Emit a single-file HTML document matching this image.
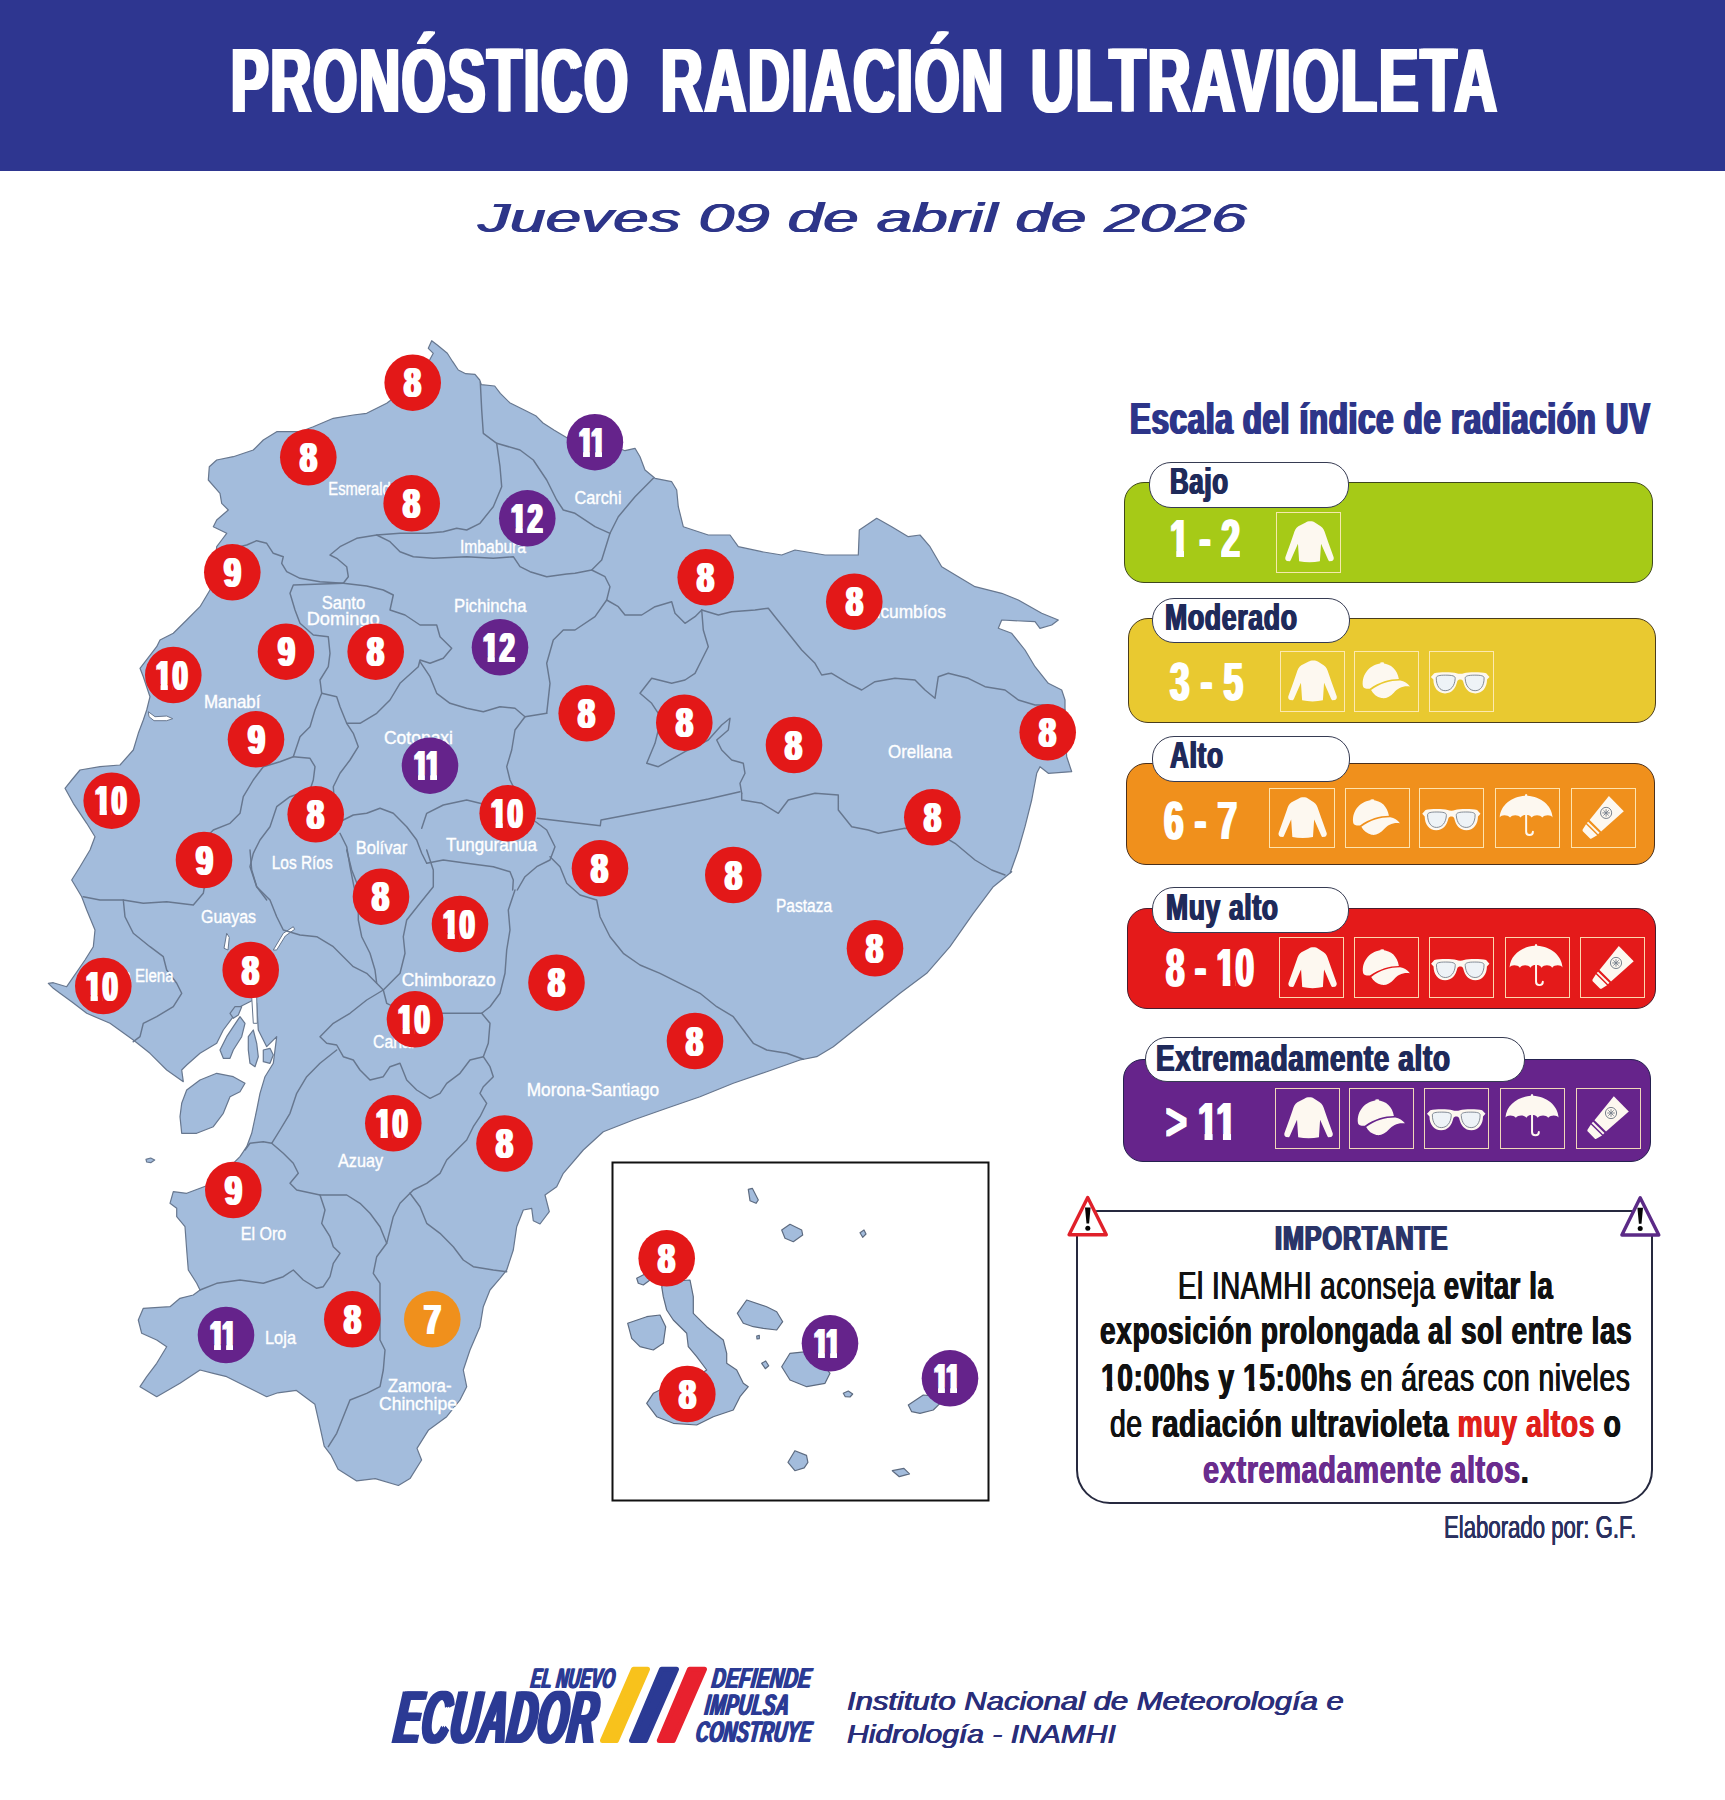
<!DOCTYPE html>
<html lang="es">
<head>
<meta charset="utf-8">
<title>Pronóstico Radiación Ultravioleta</title>
<style>
html,body{margin:0;padding:0;background:#fff;}
body{width:1725px;height:1800px;position:relative;overflow:hidden;font-family:"Liberation Sans",sans-serif;}
.t{position:absolute;white-space:nowrap;line-height:1;transform-origin:0 0;}
.abs{position:absolute;}
#hdr{left:0;top:0;width:1725px;height:170.5px;background:#2e3690;}
.band{position:absolute;border-radius:20px;box-sizing:border-box;}
.tab{position:absolute;background:#fff;border:1.6px solid #363b52;border-radius:22px;box-sizing:border-box;}
.ib{position:absolute;border:1.4px solid rgba(255,236,190,.9);box-sizing:border-box;}
svg{position:absolute;left:0;top:0;overflow:visible;}
</style>
</head>
<body>
<div id="hdr" class="abs"></div>
<div class="t" style="left:230.5px;top:36.2px;font-size:90.12px;color:#fff;font-weight:700;transform:scaleX(0.6260);text-shadow:3.20px 0 0 currentColor,-3.20px 0 0 currentColor;letter-spacing:3.15px;">PRONÓSTICO</div>
<div class="t" style="left:660.5px;top:36.2px;font-size:90.12px;color:#fff;font-weight:700;transform:scaleX(0.6382);text-shadow:3.13px 0 0 currentColor,-3.13px 0 0 currentColor;letter-spacing:3.15px;">RADIACIÓN</div>
<div class="t" style="left:1030.5px;top:36.2px;font-size:90.12px;color:#fff;font-weight:700;transform:scaleX(0.6559);text-shadow:3.05px 0 0 currentColor,-3.05px 0 0 currentColor;letter-spacing:3.15px;">ULTRAVIOLETA</div>
<div class="t" style="left:478.0px;top:197.9px;font-size:41.42px;color:#2d3589;font-weight:400;font-style:italic;transform:scaleX(1.5459);text-shadow:0.58px 0 0 currentColor,-0.58px 0 0 currentColor;">Jueves 09 de abril de 2026</div>
<svg width="1725" height="1800" viewBox="0 0 1725 1800" style="font-family:'Liberation Sans',sans-serif">
<g fill="#a3bcdc" stroke="#67778f" stroke-width="1.2" stroke-linejoin="round">
<path d="M431.7,340.7 437.3,345.0 447.3,353.3 452.7,361.7 458.3,370.0 465.7,373.7 475.0,374.3 479.7,380.0 481.3,384.7 494.7,386.0 500.3,393.3 509.7,402.7 524.3,410.0 535.7,415.7 543.0,423.0 554.3,430.3 567.3,438.0 575.0,440.7 595.0,441.7 615.0,446.7 625.0,450.7 635.0,448.3 640.0,456.7 645.0,470.0 655.0,478.3 671.7,481.7 676.7,490.0 678.3,506.7 683.3,526.7 708.3,535.0 730.0,535.0 738.3,546.7 761.7,551.7 781.7,555.0 795.0,550.0 825.0,555.0 858.3,555.0 859.3,530.0 876.7,518.3 891.7,526.7 908.3,536.7 920.0,535.0 930.0,546.7 941.7,566.7 958.3,576.7 975.0,586.7 1001.7,593.3 1018.3,600.0 1041.7,613.3 1058.3,620.0 1051.7,625.0 1040.0,628.3 1035.0,621.7 1001.7,620.0 998.3,628.3 1011.7,633.3 1025.0,650.0 1035.0,666.7 1048.3,683.3 1061.7,690.0 1065.0,700.0 1065.0,720.0 1065.7,743.3 1066.7,756.7 1071.7,771.7 1048.3,773.3 1040.0,766.7 1036.7,773.3 1031.7,800.0 1025.0,826.7 1018.3,850.0 1010.0,873.3 1011.7,871.7 993.3,886.7 973.3,913.3 950.0,946.7 926.7,973.3 900.0,993.3 866.7,1020.0 833.3,1046.7 816.7,1056.7 800.0,1060.0 766.7,1071.7 733.3,1083.3 700.0,1096.7 666.7,1108.3 633.3,1120.0 603.3,1131.7 583.3,1150.0 563.3,1173.3 556.7,1186.7 545.0,1195.0 549.3,1211.7 540.0,1224.0 533.3,1220.7 531.7,1208.3 523.3,1210.0 516.7,1226.7 513.3,1250.0 506.7,1270.0 500.0,1278.3 490.0,1290.0 483.3,1306.7 480.0,1326.7 470.0,1350.0 463.3,1370.0 466.7,1386.7 460.0,1400.0 446.7,1416.7 428.6,1429.9 417.0,1448.4 421.6,1460.0 410.0,1478.6 398.4,1485.5 375.2,1478.6 356.7,1480.9 338.1,1469.3 331.2,1455.4 324.2,1446.1 319.6,1425.2 314.9,1404.3 296.4,1390.4 277.8,1392.8 266.7,1396.7 246.7,1386.7 226.7,1376.7 213.3,1373.3 200.0,1370.0 180.0,1383.3 156.7,1396.7 140.0,1386.7 146.7,1376.7 156.7,1363.3 166.7,1346.7 156.7,1340.0 141.7,1333.3 138.3,1320.0 143.3,1308.3 170.0,1306.7 180.0,1298.3 193.3,1295.0 200.0,1290.0 196.7,1283.3 188.3,1270.0 186.7,1250.0 185.0,1226.7 176.7,1216.7 176.7,1208.3 170.0,1203.3 173.3,1191.7 186.7,1193.3 200.0,1188.3 213.3,1183.3 226.7,1170.0 240.0,1156.7 246.7,1146.7 251.7,1133.3 256.7,1110.0 260.0,1093.3 265.0,1076.7 273.3,1063.3 276.7,1036.7 266.7,1046.7 258.3,1030.0 256.7,1003.3 253.3,1000.0 240.0,1006.7 233.3,1016.7 223.3,1030.0 216.7,1043.3 200.0,1053.3 186.7,1065.0 181.7,1070.0 183.3,1081.7 166.7,1070.0 150.0,1053.3 133.3,1040.0 110.0,1023.3 86.7,1013.3 71.7,1001.7 60.0,993.3 53.3,988.3 48.3,983.3 53.3,982.7 66.7,986.7 85.0,960.0 93.3,946.7 95.0,930.0 86.7,910.0 81.7,896.7 71.7,880.0 80.0,866.7 90.0,850.0 95.0,836.7 86.7,823.3 73.3,803.3 65.0,788.3 71.7,780.0 80.0,770.0 100.0,766.7 120.0,765.0 133.3,750.0 138.3,733.3 143.3,720.0 146.7,710.0 150.0,696.7 143.3,676.7 140.0,668.3 156.7,646.7 160.0,640.0 173.3,633.3 186.7,620.0 200.0,606.7 210.0,590.0 215.0,563.3 216.7,546.7 221.7,540.0 226.7,533.3 213.3,526.7 216.7,520.0 228.3,510.0 221.7,503.3 220.0,493.3 208.3,480.0 209.3,466.7 216.7,460.0 233.3,456.7 253.3,450.0 263.3,440.0 276.7,431.7 300.0,431.7 313.3,426.7 333.3,418.3 353.3,415.0 366.7,413.3 386.7,403.3 400.0,393.3 416.7,376.7 430.0,359.3 433.3,353.3 428.3,348.3Z"/>
<path d="M181.7,1103.3 186.7,1090.0 200.0,1080.0 216.7,1073.3 233.3,1076.7 245.0,1083.3 240.0,1091.7 230.0,1096.7 223.3,1113.3 213.3,1126.7 196.7,1133.3 181.7,1133.3 180.0,1116.7Z"/>
<path d="M146.0,1159.3 150.7,1158.0 154.7,1160.0 150.7,1162.7 146.7,1162.0Z"/>
<path d="M220.0,1050.0 226.7,1036.7 233.3,1026.7 240.0,1016.7 245.0,1023.3 241.7,1036.7 233.3,1050.0 230.0,1058.3 223.3,1058.3Z"/>
<path d="M248.3,1036.7 253.3,1030.0 256.7,1043.3 258.3,1056.7 255.0,1066.7 250.0,1063.3 248.3,1050.0Z"/>
<path d="M263.3,1050.0 270.0,1048.3 273.3,1055.0 270.0,1063.3 263.3,1061.7Z"/>
<path d="M230.0,1013.3 235.0,1006.7 241.7,1006.7 238.3,1015.0 233.3,1018.3Z"/>
</g>
<g fill="#fff" stroke="#67778f" stroke-width="1">
<path d="M148.3,711.7 155.0,716.7 166.7,716.0 172.7,718.7 166.7,720.7 154.0,720.7 149.0,716.7Z"/>
<path d="M224.0,948.3 226.7,933.3 229.3,937.3 228.0,950.0Z"/>
<path d="M273.3,950.0 283.3,933.3 293.3,926.7 294.7,929.3 285.3,936.0 276.7,950.0Z"/>
<path d="M251.7,996.7 256.7,996.7 257.3,1023.3 253.3,1023.3Z"/>
</g>
<g fill="none" stroke="#67778f" stroke-width="1.45" stroke-linejoin="round" stroke-linecap="round">
<path d="M480.3,382.3 481.7,410.0 483.3,433.3 496.7,443.3 500.0,466.7 501.7,486.7 493.3,506.7 480.0,523.3 466.7,530.0 456.7,528.3 443.3,531.7 426.7,533.3 400.0,533.3 376.7,535.0 356.7,538.3 340.0,546.7 330.0,555.0 336.7,558.3 346.7,566.7 348.3,576.7 343.3,583.3"/>
<path d="M343.3,583.3 320.0,581.7 300.0,578.3 286.7,571.7 281.7,563.3 283.3,556.7 273.3,553.3 266.7,543.3 256.7,540.7 246.7,545.0 233.3,548.3"/>
<path d="M496.7,443.3 520.0,450.0 533.3,460.0 546.7,480.0 556.7,500.0 563.3,510.0 575.0,513.3 575.0,513.3 595.0,526.7 610.0,533.3"/>
<path d="M653.3,478.3 635.0,496.7 618.3,516.7 610.0,533.3 601.7,560.0 591.7,570.0 575.0,573.3 566.7,574.0 546.7,576.7 530.0,571.7 520.0,566.7 513.3,556.7 493.3,558.3 466.7,556.7 433.3,558.3 413.3,556.7 400.0,551.7 390.0,541.7 376.7,535.0"/>
<path d="M591.7,570.0 605.0,576.7 610.0,586.7 606.7,600.0 595.0,616.7 575.0,630.0 563.3,630.0 553.3,640.0 546.7,663.3 550.0,683.3 546.7,713.3"/>
<path d="M606.7,600.0 618.3,606.7 625.0,615.0 641.7,615.0 655.0,606.7 671.7,601.7 675.0,613.3 685.0,623.3 695.0,616.7 701.7,610.0"/>
<path d="M701.7,610.0 718.3,615.0 731.7,611.7 755.0,610.0 768.3,608.3 775.0,616.7 788.3,633.3 801.7,650.0 815.0,663.3 821.7,675.0 831.7,673.3 848.3,683.3 861.7,690.0 875.0,681.7 895.0,678.3 915.0,680.0 925.0,690.0 935.0,698.3 938.3,676.7 948.3,673.3 968.3,678.3 985.0,686.7 1005.0,690.0 1018.3,700.0 1035.0,705.0 1048.3,705.0 1065.0,710.0"/>
<path d="M701.7,610.0 703.3,630.0 708.3,646.7 701.7,660.0 695.0,673.3 685.0,680.0 671.7,683.3 651.7,678.3 640.0,693.3 651.7,703.3 658.3,713.3 658.3,730.0 655.0,743.3 646.7,763.3 658.3,766.7 685.0,751.7 708.3,740.0 721.7,725.0 730.0,718.3 728.3,730.0 716.7,740.0 721.7,750.0 731.7,760.0 743.3,763.3 745.0,773.3 740.0,783.3 741.7,793.3"/>
<path d="M741.7,793.3 741.7,800.0 761.7,803.3 778.3,813.3 788.3,800.0 815.0,793.3 838.3,795.0 838.3,810.0 851.7,826.7 868.3,830.0 878.3,833.3 905.0,828.3 932.3,830.0 955.0,843.3 975.0,860.0 991.7,870.0 1005.0,875.0"/>
<path d="M740.0,791.7 708.3,799.0 675.0,805.7 641.7,812.3 601.0,820.0 600.3,825.7 575.0,822.7 537.3,818.3"/>
<path d="M343.3,583.3 293.3,585.0 290.0,593.3 295.0,610.0 300.0,623.3 313.3,635.0 328.3,636.7 330.0,653.3 328.3,666.7 320.0,680.0 321.7,693.3"/>
<path d="M343.3,583.3 366.7,586.0 383.3,590.0 393.3,595.0 390.0,610.0 405.0,615.0 420.0,625.0 436.7,625.0 440.0,636.7 451.7,648.3 443.3,658.3 430.0,663.3 420.0,660.0 418.3,666.7 400.0,683.3 390.0,700.0 376.7,713.3 360.0,723.3 346.7,723.3 340.0,706.7 336.7,696.7 321.7,693.3"/>
<path d="M420.0,661.7 430.0,676.7 436.7,693.3 450.0,703.3 466.7,708.3 483.3,711.7 500.0,706.7 515.0,708.3 525.0,716.7 546.7,713.3"/>
<path d="M525.0,716.7 515.0,730.0 511.7,750.0 506.7,766.7 510.0,780.0 515.0,790.0 515.0,815.0"/>
<path d="M321.7,693.3 315.0,710.0 310.0,726.7 300.0,736.7 293.3,756.7 280.0,761.7 263.3,766.7 253.3,780.0 243.3,796.7 240.0,813.3 230.0,823.3 213.3,830.0 206.7,836.7 205.0,866.7"/>
<path d="M346.7,723.3 353.3,733.3 358.3,746.7 350.0,760.0 340.0,773.3 333.3,786.7 335.0,810.0 343.3,820.0"/>
<path d="M293.3,756.7 310.0,758.3 315.0,766.7 313.3,780.0 310.0,790.0 290.0,796.7 276.7,806.7 270.0,826.7 260.0,840.0 253.3,853.3 250.0,866.7 256.7,886.7 266.7,900.0"/>
<path d="M343.3,820.0 353.3,815.0 366.7,813.3 380.0,808.3 393.3,813.3 406.7,826.7 416.7,840.0 421.7,853.3 426.7,863.3"/>
<path d="M340.0,833.3 346.7,846.7 350.0,866.7 353.3,883.3 356.7,900.0"/>
<path d="M421.7,828.3 426.7,813.3 443.3,805.0 466.7,800.0 480.0,803.3 515.0,815.0"/>
<path d="M533.3,820.0 546.7,830.0 555.0,846.7 550.0,860.0 536.7,866.7 525.0,876.7 517.3,890.0"/>
<path d="M426.7,863.3 443.3,860.0 466.7,863.3 493.3,866.7 510.0,871.7 513.3,880.0 512.7,890.0"/>
<path d="M83.3,896.7 100.0,900.0 123.3,900.0 143.3,903.3 166.7,901.7 193.3,905.0 203.3,893.3 205.0,883.3"/>
<path d="M123.3,900.0 125.0,916.7 133.3,933.3 150.0,946.7 163.3,956.7 166.7,970.0 176.7,983.3 181.7,993.3 173.3,1006.7 156.7,1016.7 143.3,1023.3 140.0,1036.7 133.3,1041.7"/>
<path d="M250.0,850.0 251.7,870.0 256.7,886.7 270.0,900.0 276.7,916.7 283.3,930.0 300.0,935.0 316.7,936.7 333.3,946.7 343.3,956.7 353.3,966.7 366.7,973.3 376.7,983.3 383.3,990.0"/>
<path d="M346.7,850.0 351.7,870.0 358.3,886.7 358.3,920.0 361.7,936.7 370.0,953.3 375.0,970.0 376.7,983.3"/>
<path d="M426.7,850.0 433.3,870.0 433.3,886.7 420.0,903.3 406.7,920.0 403.3,936.7 405.0,953.3 400.0,973.3 383.3,990.0"/>
<path d="M515.0,890.0 508.3,910.0 510.0,930.0 506.7,950.0 505.0,973.3 500.0,993.3 490.0,1006.7 481.7,1013.3"/>
<path d="M383.3,990.0 366.7,1000.0 350.0,1013.3 333.3,1023.3 320.0,1036.7 326.7,1043.3 336.7,1045.0 343.3,1056.7 353.3,1060.0 360.0,1070.0 370.0,1080.0 383.3,1076.7 390.0,1066.7 400.0,1063.3 406.7,1080.0 416.7,1090.0 430.0,1098.3 440.0,1093.3 446.7,1083.3 460.0,1073.3 470.0,1060.0 483.3,1056.7 490.0,1066.7 493.3,1076.7 483.3,1086.7 480.0,1093.3 486.7,1103.3 480.0,1116.7 473.3,1126.7 466.7,1140.0 456.7,1150.0 446.7,1160.0 440.0,1173.3 426.7,1183.3 413.3,1190.0 410.0,1193.3"/>
<path d="M383.3,990.0 386.7,1003.3 415.0,1016.7 443.3,1013.3 466.7,1013.3 481.7,1013.3 490.0,1023.3 488.3,1043.3 483.3,1056.7"/>
<path d="M336.7,1050.0 320.0,1063.3 306.7,1076.7 296.7,1093.3 290.0,1113.3 280.0,1130.0 271.7,1143.3 263.3,1141.7 250.0,1143.3 245.0,1150.0"/>
<path d="M271.7,1143.3 283.3,1153.3 293.3,1163.3 298.3,1173.3 290.0,1183.3 296.7,1190.0 320.0,1195.0 346.7,1195.0 360.0,1203.3 370.0,1213.3 380.0,1226.7 386.7,1243.3"/>
<path d="M410.0,1193.3 400.0,1203.3 393.3,1216.7 386.7,1243.3 376.7,1256.7 373.3,1273.3 380.0,1283.3 380.0,1296.7 380.0,1340.0 385.0,1350.0 383.3,1370.0 380.0,1386.7 366.7,1393.3 350.0,1400.0 343.3,1416.7 336.7,1433.3 328.3,1446.7"/>
<path d="M320.0,1195.0 325.0,1210.0 321.7,1223.3 330.0,1236.7 333.3,1246.7 340.0,1253.3 333.3,1263.3 330.0,1276.7 323.3,1286.7 316.7,1288.3 303.3,1280.0 293.3,1270.0 283.3,1276.7 263.3,1283.3 240.0,1280.0 216.7,1283.3 200.0,1290.0"/>
<path d="M410.0,1193.3 420.0,1206.7 426.7,1223.3 440.0,1233.3 453.3,1246.7 463.3,1260.0 473.3,1266.7 493.3,1270.0 506.7,1271.7"/>
<path d="M550.0,856.7 560.0,866.7 566.7,883.3 580.0,895.0 596.7,900.0 600.0,916.7 610.0,936.7 623.3,953.3 640.0,965.0 660.0,973.3 680.0,983.3 700.0,993.3 716.7,1006.7 733.3,1016.7 743.3,1030.0 753.3,1043.3 766.7,1050.0 786.7,1053.3 803.3,1059.3"/>
</g>
<rect x="612.5" y="1162.5" width="376" height="338" fill="#fff" stroke="#111" stroke-width="2"/>
<g fill="#a3bcdc" stroke="#5d6b80" stroke-width="1.2" stroke-linejoin="round">
<path d="M661.7,1286.7 666.7,1281.7 690.0,1280.0 693.3,1296.7 693.3,1313.3 706.7,1326.7 723.3,1340.0 726.7,1353.3 726.7,1363.3 736.7,1370.0 743.3,1383.3 748.3,1386.7 740.0,1396.7 733.3,1410.0 713.3,1416.7 696.7,1425.0 673.3,1423.3 656.7,1416.7 646.7,1403.3 653.3,1393.3 663.3,1388.3 686.7,1383.3 706.7,1370.0 696.7,1356.7 688.3,1346.7 686.7,1333.3 673.3,1320.0 666.7,1310.0 663.3,1296.7Z"/>
<path d="M636.7,1278.3 645.0,1274.0 650.0,1280.0 643.3,1285.0 638.3,1283.3Z"/>
<path d="M627.7,1323.3 646.7,1316.7 660.0,1315.0 665.7,1326.7 663.3,1343.3 653.3,1350.0 640.0,1346.7 631.7,1338.3Z"/>
<path d="M737.3,1313.3 746.7,1300.0 766.7,1306.7 776.7,1311.7 782.7,1321.7 776.7,1330.0 763.3,1328.3 753.3,1326.7 743.3,1323.3Z"/>
<path d="M781.7,1366.7 790.0,1353.3 806.7,1351.7 820.0,1360.0 830.0,1373.3 825.0,1383.3 806.7,1386.7 790.0,1380.0Z"/>
<path d="M908.3,1405.0 923.3,1395.0 940.0,1396.7 940.0,1403.3 933.3,1410.0 920.0,1413.3 911.7,1411.7Z"/>
<path d="M748.3,1189.3 752.3,1188.3 758.3,1200.0 756.0,1203.3 750.0,1200.7Z"/>
<path d="M781.7,1230.0 790.0,1224.3 801.7,1230.0 802.7,1235.0 793.3,1241.7 785.0,1238.3Z"/>
<path d="M860.0,1232.7 864.0,1230.0 866.0,1234.0 862.7,1237.3Z"/>
<path d="M756.7,1336.0 759.3,1335.3 759.3,1338.7 757.0,1339.0Z"/>
<path d="M761.7,1363.3 765.7,1361.0 768.7,1365.7 765.3,1368.7Z"/>
<path d="M843.3,1393.3 848.3,1391.0 852.7,1394.0 850.0,1397.0 845.3,1396.7Z"/>
<path d="M788.0,1462.3 794.9,1450.7 806.5,1455.4 807.9,1462.3 804.2,1467.9 794.9,1470.7Z"/>
<path d="M892.3,1470.7 903.9,1468.3 909.5,1473.9 899.3,1476.7Z"/>
</g>
<g fill="#fff" font-size="17.5" stroke="#fff" stroke-width="0.35">
<text x="328.3" y="495.1" textLength="78.0" lengthAdjust="spacingAndGlyphs">Esmeraldas</text>
<text x="574.5" y="503.8" textLength="47.0" lengthAdjust="spacingAndGlyphs">Carchi</text>
<text x="460.0" y="552.5" textLength="66.0" lengthAdjust="spacingAndGlyphs">Imbabura</text>
<text x="321.7" y="609.1" textLength="43.5" lengthAdjust="spacingAndGlyphs">Santo</text>
<text x="306.7" y="624.8" textLength="73.0" lengthAdjust="spacingAndGlyphs">Domingo</text>
<text x="454.0" y="611.5" textLength="72.5" lengthAdjust="spacingAndGlyphs">Pichincha</text>
<text x="859.3" y="617.5" textLength="86.5" lengthAdjust="spacingAndGlyphs">Sucumbíos</text>
<text x="204.0" y="707.5" textLength="56.5" lengthAdjust="spacingAndGlyphs">Manabí</text>
<text x="384.0" y="744.1" textLength="69.0" lengthAdjust="spacingAndGlyphs">Cotopaxi</text>
<text x="888.0" y="758.1" textLength="64.0" lengthAdjust="spacingAndGlyphs">Orellana</text>
<text x="355.7" y="853.8" textLength="51.5" lengthAdjust="spacingAndGlyphs">Bolívar</text>
<text x="446.0" y="850.8" textLength="91.0" lengthAdjust="spacingAndGlyphs">Tungurahua</text>
<text x="271.7" y="869.1" textLength="61.0" lengthAdjust="spacingAndGlyphs">Los Ríos</text>
<text x="776.0" y="911.8" textLength="56.0" lengthAdjust="spacingAndGlyphs">Pastaza</text>
<text x="201.0" y="922.5" textLength="55.0" lengthAdjust="spacingAndGlyphs">Guayas</text>
<text x="91.5" y="982.1" textLength="82.0" lengthAdjust="spacingAndGlyphs">Santa Elena</text>
<text x="401.7" y="985.8" textLength="94.0" lengthAdjust="spacingAndGlyphs">Chimborazo</text>
<text x="373.0" y="1047.5" textLength="43.0" lengthAdjust="spacingAndGlyphs">Cañar</text>
<text x="526.7" y="1095.8" textLength="132.5" lengthAdjust="spacingAndGlyphs">Morona-Santiago</text>
<text x="338.0" y="1166.8" textLength="45.0" lengthAdjust="spacingAndGlyphs">Azuay</text>
<text x="240.7" y="1240.1" textLength="45.5" lengthAdjust="spacingAndGlyphs">El Oro</text>
<text x="265.0" y="1344.1" textLength="31.0" lengthAdjust="spacingAndGlyphs">Loja</text>
<text x="387.7" y="1391.5" textLength="64.0" lengthAdjust="spacingAndGlyphs">Zamora-</text>
<text x="379.0" y="1410.4" textLength="78.0" lengthAdjust="spacingAndGlyphs">Chinchipe</text>
</g>
<g>
<circle cx="412.7" cy="382.7" r="28.3" fill="#e31818"/>
<circle cx="308.3" cy="457.3" r="28.3" fill="#e31818"/>
<circle cx="411.7" cy="503.3" r="28.3" fill="#e31818"/>
<circle cx="527.3" cy="518.3" r="28.3" fill="#65238b"/>
<circle cx="232.3" cy="572.3" r="28.3" fill="#e31818"/>
<circle cx="286.0" cy="651.7" r="28.3" fill="#e31818"/>
<circle cx="375.7" cy="651.7" r="28.3" fill="#e31818"/>
<circle cx="500.0" cy="647.3" r="28.3" fill="#65238b"/>
<circle cx="173.3" cy="675.0" r="28.3" fill="#e31818"/>
<circle cx="256.0" cy="739.3" r="28.3" fill="#e31818"/>
<circle cx="430.0" cy="765.7" r="28.3" fill="#65238b"/>
<circle cx="111.7" cy="800.7" r="28.3" fill="#e31818"/>
<circle cx="315.7" cy="814.3" r="28.3" fill="#e31818"/>
<circle cx="507.7" cy="813.3" r="28.3" fill="#e31818"/>
<circle cx="204.0" cy="860.0" r="28.3" fill="#e31818"/>
<circle cx="381.0" cy="896.7" r="28.3" fill="#e31818"/>
<circle cx="594.9" cy="442.2" r="28.3" fill="#65238b"/>
<circle cx="705.7" cy="577.3" r="28.3" fill="#e31818"/>
<circle cx="854.3" cy="601.7" r="28.3" fill="#e31818"/>
<circle cx="586.7" cy="713.3" r="28.3" fill="#e31818"/>
<circle cx="684.3" cy="722.7" r="28.3" fill="#e31818"/>
<circle cx="794.0" cy="745.0" r="28.3" fill="#e31818"/>
<circle cx="1047.7" cy="732.3" r="28.3" fill="#e31818"/>
<circle cx="932.3" cy="817.3" r="28.3" fill="#e31818"/>
<circle cx="600.0" cy="868.3" r="28.3" fill="#e31818"/>
<circle cx="733.3" cy="875.0" r="28.3" fill="#e31818"/>
<circle cx="460.0" cy="924.0" r="28.3" fill="#e31818"/>
<circle cx="250.7" cy="970.0" r="28.3" fill="#e31818"/>
<circle cx="103.3" cy="986.0" r="28.3" fill="#e31818"/>
<circle cx="556.5" cy="982.7" r="28.3" fill="#e31818"/>
<circle cx="415.0" cy="1019.3" r="28.3" fill="#e31818"/>
<circle cx="393.3" cy="1123.3" r="28.3" fill="#e31818"/>
<circle cx="504.5" cy="1143.5" r="28.3" fill="#e31818"/>
<circle cx="233.3" cy="1190.0" r="28.3" fill="#e31818"/>
<circle cx="352.3" cy="1319.3" r="28.3" fill="#e31818"/>
<circle cx="432.3" cy="1319.3" r="28.3" fill="#f0901c"/>
<circle cx="226.0" cy="1335.0" r="28.3" fill="#65238b"/>
<circle cx="875.0" cy="948.3" r="28.3" fill="#e31818"/>
<circle cx="695.0" cy="1041.0" r="28.3" fill="#e31818"/>
<circle cx="666.7" cy="1258.3" r="28.3" fill="#e31818"/>
<circle cx="830.0" cy="1343.3" r="28.3" fill="#65238b"/>
<circle cx="950.0" cy="1378.3" r="28.3" fill="#65238b"/>
<circle cx="687.3" cy="1394.0" r="28.3" fill="#e31818"/>
</g>
</svg>
<div style="position:absolute;left:0;top:0;font-weight:700;color:#fff;font-size:43.4px">
<div class="t" style="left:403.9px;top:361.2px;transform:scaleX(0.700);letter-spacing:0.0px;text-shadow:2.14px 0 0 #fff,-2.14px 0 0 #fff;">8</div>
<div class="t" style="left:299.5px;top:435.8px;transform:scaleX(0.700);letter-spacing:0.0px;text-shadow:2.14px 0 0 #fff,-2.14px 0 0 #fff;">8</div>
<div class="t" style="left:402.9px;top:481.8px;transform:scaleX(0.700);letter-spacing:0.0px;text-shadow:2.14px 0 0 #fff,-2.14px 0 0 #fff;">8</div>
<div class="t" style="left:510.7px;top:496.8px;transform:scaleX(0.625);letter-spacing:2.5px;text-shadow:2.24px 0 0 #fff,-2.24px 0 0 #fff;clip-path:polygon(-13.0px -17.4px,66.3px -17.4px,66.3px 30.6px,51.8px 30.6px,51.8px 58.6px,25.4px 58.6px,25.4px 30.6px,18.9px 30.6px,18.9px 58.6px,7.3px 58.6px,7.3px 30.6px,-13.0px 30.6px);">12</div>
<div class="t" style="left:224.1px;top:550.8px;transform:scaleX(0.700);letter-spacing:0.0px;text-shadow:2.14px 0 0 #fff,-2.14px 0 0 #fff;">9</div>
<div class="t" style="left:277.8px;top:630.2px;transform:scaleX(0.700);letter-spacing:0.0px;text-shadow:2.14px 0 0 #fff,-2.14px 0 0 #fff;">9</div>
<div class="t" style="left:366.9px;top:630.2px;transform:scaleX(0.700);letter-spacing:0.0px;text-shadow:2.14px 0 0 #fff,-2.14px 0 0 #fff;">8</div>
<div class="t" style="left:483.4px;top:625.8px;transform:scaleX(0.625);letter-spacing:2.5px;text-shadow:2.24px 0 0 #fff,-2.24px 0 0 #fff;clip-path:polygon(-13.0px -17.4px,66.3px -17.4px,66.3px 30.6px,51.8px 30.6px,51.8px 58.6px,25.4px 58.6px,25.4px 30.6px,18.9px 30.6px,18.9px 58.6px,7.3px 58.6px,7.3px 30.6px,-13.0px 30.6px);">12</div>
<div class="t" style="left:156.1px;top:653.5px;transform:scaleX(0.625);letter-spacing:2.5px;text-shadow:2.24px 0 0 #fff,-2.24px 0 0 #fff;clip-path:polygon(-13.0px -17.4px,66.3px -17.4px,66.3px 30.6px,51.7px 30.6px,51.7px 58.6px,25.6px 58.6px,25.6px 30.6px,18.9px 30.6px,18.9px 58.6px,7.3px 58.6px,7.3px 30.6px,-13.0px 30.6px);">10</div>
<div class="t" style="left:247.8px;top:717.8px;transform:scaleX(0.700);letter-spacing:0.0px;text-shadow:2.14px 0 0 #fff,-2.14px 0 0 #fff;">9</div>
<div class="t" style="left:413.9px;top:744.2px;transform:scaleX(0.570);letter-spacing:-0.5px;text-shadow:2.46px 0 0 #fff,-2.46px 0 0 #fff;clip-path:polygon(-13.0px -17.4px,57.9px -17.4px,57.9px 30.6px,40.4px 30.6px,40.4px 58.6px,28.3px 58.6px,28.3px 30.6px,19.1px 30.6px,19.1px 58.6px,7.1px 58.6px,7.1px 30.6px,-13.0px 30.6px);">11</div>
<div class="t" style="left:94.5px;top:779.2px;transform:scaleX(0.625);letter-spacing:2.5px;text-shadow:2.24px 0 0 #fff,-2.24px 0 0 #fff;clip-path:polygon(-13.0px -17.4px,66.3px -17.4px,66.3px 30.6px,51.7px 30.6px,51.7px 58.6px,25.6px 58.6px,25.6px 30.6px,18.9px 30.6px,18.9px 58.6px,7.3px 58.6px,7.3px 30.6px,-13.0px 30.6px);">10</div>
<div class="t" style="left:306.9px;top:792.8px;transform:scaleX(0.700);letter-spacing:0.0px;text-shadow:2.14px 0 0 #fff,-2.14px 0 0 #fff;">8</div>
<div class="t" style="left:490.5px;top:791.8px;transform:scaleX(0.625);letter-spacing:2.5px;text-shadow:2.24px 0 0 #fff,-2.24px 0 0 #fff;clip-path:polygon(-13.0px -17.4px,66.3px -17.4px,66.3px 30.6px,51.7px 30.6px,51.7px 58.6px,25.6px 58.6px,25.6px 30.6px,18.9px 30.6px,18.9px 58.6px,7.3px 58.6px,7.3px 30.6px,-13.0px 30.6px);">10</div>
<div class="t" style="left:195.8px;top:838.5px;transform:scaleX(0.700);letter-spacing:0.0px;text-shadow:2.14px 0 0 #fff,-2.14px 0 0 #fff;">9</div>
<div class="t" style="left:372.2px;top:875.2px;transform:scaleX(0.700);letter-spacing:0.0px;text-shadow:2.14px 0 0 #fff,-2.14px 0 0 #fff;">8</div>
<div class="t" style="left:578.8px;top:420.7px;transform:scaleX(0.570);letter-spacing:-0.5px;text-shadow:2.46px 0 0 #fff,-2.46px 0 0 #fff;clip-path:polygon(-13.0px -17.4px,57.9px -17.4px,57.9px 30.6px,40.4px 30.6px,40.4px 58.6px,28.3px 58.6px,28.3px 30.6px,19.1px 30.6px,19.1px 58.6px,7.1px 58.6px,7.1px 30.6px,-13.0px 30.6px);">11</div>
<div class="t" style="left:696.9px;top:555.8px;transform:scaleX(0.700);letter-spacing:0.0px;text-shadow:2.14px 0 0 #fff,-2.14px 0 0 #fff;">8</div>
<div class="t" style="left:845.5px;top:580.2px;transform:scaleX(0.700);letter-spacing:0.0px;text-shadow:2.14px 0 0 #fff,-2.14px 0 0 #fff;">8</div>
<div class="t" style="left:577.9px;top:691.8px;transform:scaleX(0.700);letter-spacing:0.0px;text-shadow:2.14px 0 0 #fff,-2.14px 0 0 #fff;">8</div>
<div class="t" style="left:675.5px;top:701.2px;transform:scaleX(0.700);letter-spacing:0.0px;text-shadow:2.14px 0 0 #fff,-2.14px 0 0 #fff;">8</div>
<div class="t" style="left:785.2px;top:723.5px;transform:scaleX(0.700);letter-spacing:0.0px;text-shadow:2.14px 0 0 #fff,-2.14px 0 0 #fff;">8</div>
<div class="t" style="left:1038.9px;top:710.8px;transform:scaleX(0.700);letter-spacing:0.0px;text-shadow:2.14px 0 0 #fff,-2.14px 0 0 #fff;">8</div>
<div class="t" style="left:923.5px;top:795.8px;transform:scaleX(0.700);letter-spacing:0.0px;text-shadow:2.14px 0 0 #fff,-2.14px 0 0 #fff;">8</div>
<div class="t" style="left:591.2px;top:846.8px;transform:scaleX(0.700);letter-spacing:0.0px;text-shadow:2.14px 0 0 #fff,-2.14px 0 0 #fff;">8</div>
<div class="t" style="left:724.5px;top:853.5px;transform:scaleX(0.700);letter-spacing:0.0px;text-shadow:2.14px 0 0 #fff,-2.14px 0 0 #fff;">8</div>
<div class="t" style="left:442.8px;top:902.5px;transform:scaleX(0.625);letter-spacing:2.5px;text-shadow:2.24px 0 0 #fff,-2.24px 0 0 #fff;clip-path:polygon(-13.0px -17.4px,66.3px -17.4px,66.3px 30.6px,51.7px 30.6px,51.7px 58.6px,25.6px 58.6px,25.6px 30.6px,18.9px 30.6px,18.9px 58.6px,7.3px 58.6px,7.3px 30.6px,-13.0px 30.6px);">10</div>
<div class="t" style="left:241.9px;top:948.5px;transform:scaleX(0.700);letter-spacing:0.0px;text-shadow:2.14px 0 0 #fff,-2.14px 0 0 #fff;">8</div>
<div class="t" style="left:86.1px;top:964.5px;transform:scaleX(0.625);letter-spacing:2.5px;text-shadow:2.24px 0 0 #fff,-2.24px 0 0 #fff;clip-path:polygon(-13.0px -17.4px,66.3px -17.4px,66.3px 30.6px,51.7px 30.6px,51.7px 58.6px,25.6px 58.6px,25.6px 30.6px,18.9px 30.6px,18.9px 58.6px,7.3px 58.6px,7.3px 30.6px,-13.0px 30.6px);">10</div>
<div class="t" style="left:547.7px;top:961.2px;transform:scaleX(0.700);letter-spacing:0.0px;text-shadow:2.14px 0 0 #fff,-2.14px 0 0 #fff;">8</div>
<div class="t" style="left:397.8px;top:997.8px;transform:scaleX(0.625);letter-spacing:2.5px;text-shadow:2.24px 0 0 #fff,-2.24px 0 0 #fff;clip-path:polygon(-13.0px -17.4px,66.3px -17.4px,66.3px 30.6px,51.7px 30.6px,51.7px 58.6px,25.6px 58.6px,25.6px 30.6px,18.9px 30.6px,18.9px 58.6px,7.3px 58.6px,7.3px 30.6px,-13.0px 30.6px);">10</div>
<div class="t" style="left:376.1px;top:1101.8px;transform:scaleX(0.625);letter-spacing:2.5px;text-shadow:2.24px 0 0 #fff,-2.24px 0 0 #fff;clip-path:polygon(-13.0px -17.4px,66.3px -17.4px,66.3px 30.6px,51.7px 30.6px,51.7px 58.6px,25.6px 58.6px,25.6px 30.6px,18.9px 30.6px,18.9px 58.6px,7.3px 58.6px,7.3px 30.6px,-13.0px 30.6px);">10</div>
<div class="t" style="left:495.7px;top:1122.0px;transform:scaleX(0.700);letter-spacing:0.0px;text-shadow:2.14px 0 0 #fff,-2.14px 0 0 #fff;">8</div>
<div class="t" style="left:225.1px;top:1168.5px;transform:scaleX(0.700);letter-spacing:0.0px;text-shadow:2.14px 0 0 #fff,-2.14px 0 0 #fff;">9</div>
<div class="t" style="left:343.5px;top:1297.8px;transform:scaleX(0.700);letter-spacing:0.0px;text-shadow:2.14px 0 0 #fff,-2.14px 0 0 #fff;">8</div>
<div class="t" style="left:423.9px;top:1297.8px;transform:scaleX(0.700);letter-spacing:0.0px;text-shadow:2.14px 0 0 #fff,-2.14px 0 0 #fff;">7</div>
<div class="t" style="left:209.9px;top:1313.5px;transform:scaleX(0.570);letter-spacing:-0.5px;text-shadow:2.46px 0 0 #fff,-2.46px 0 0 #fff;clip-path:polygon(-13.0px -17.4px,57.9px -17.4px,57.9px 30.6px,40.4px 30.6px,40.4px 58.6px,28.3px 58.6px,28.3px 30.6px,19.1px 30.6px,19.1px 58.6px,7.1px 58.6px,7.1px 30.6px,-13.0px 30.6px);">11</div>
<div class="t" style="left:866.2px;top:926.8px;transform:scaleX(0.700);letter-spacing:0.0px;text-shadow:2.14px 0 0 #fff,-2.14px 0 0 #fff;">8</div>
<div class="t" style="left:686.2px;top:1019.5px;transform:scaleX(0.700);letter-spacing:0.0px;text-shadow:2.14px 0 0 #fff,-2.14px 0 0 #fff;">8</div>
<div class="t" style="left:657.9px;top:1236.8px;transform:scaleX(0.700);letter-spacing:0.0px;text-shadow:2.14px 0 0 #fff,-2.14px 0 0 #fff;">8</div>
<div class="t" style="left:813.9px;top:1321.8px;transform:scaleX(0.570);letter-spacing:-0.5px;text-shadow:2.46px 0 0 #fff,-2.46px 0 0 #fff;clip-path:polygon(-13.0px -17.4px,57.9px -17.4px,57.9px 30.6px,40.4px 30.6px,40.4px 58.6px,28.3px 58.6px,28.3px 30.6px,19.1px 30.6px,19.1px 58.6px,7.1px 58.6px,7.1px 30.6px,-13.0px 30.6px);">11</div>
<div class="t" style="left:933.9px;top:1356.8px;transform:scaleX(0.570);letter-spacing:-0.5px;text-shadow:2.46px 0 0 #fff,-2.46px 0 0 #fff;clip-path:polygon(-13.0px -17.4px,57.9px -17.4px,57.9px 30.6px,40.4px 30.6px,40.4px 58.6px,28.3px 58.6px,28.3px 30.6px,19.1px 30.6px,19.1px 58.6px,7.1px 58.6px,7.1px 30.6px,-13.0px 30.6px);">11</div>
<div class="t" style="left:678.5px;top:1372.5px;transform:scaleX(0.700);letter-spacing:0.0px;text-shadow:2.14px 0 0 #fff,-2.14px 0 0 #fff;">8</div>
</div>
<div class="t" style="left:1129.5px;top:396.1px;font-size:45.06px;color:#2d3589;font-weight:700;transform:scaleX(0.6913);text-shadow:1.59px 0 0 currentColor,-1.59px 0 0 currentColor;letter-spacing:1.13px;">Escala del índice de radiación UV</div>
<svg width="0" height="0" style="position:absolute">
<defs>
<g id="i-shirt" fill="#fdf8f0">
<path d="M29.4 8.8 C31 7.2 37.2 7.2 38.8 8.8 L44.8 12.6 C47.6 14.4 48.6 17 49.6 20.4 L52.8 29.6 L58.2 44.6 C58.6 46.2 58 47.6 56.6 48.4 L53.4 48.6 L52.4 47 L45.2 30.6 L44 48.6 C37.4 50.2 29.4 50.2 22.6 48.6 L21.4 30.6 L14.2 47 L13.2 48.6 L10 48.4 C8.6 47.6 8 46.2 8.4 44.6 L13.8 29.6 L17 20.4 C18 17 19 14.4 21.8 12.6 Z"/>
</g>
<g id="i-cap" fill="#fdf8f0" transform="translate(-2.6 0.4)">
<path d="M10.6 33.8 C8.6 20.5 19.5 10.3 30 10.3 C40 10.3 46 17 47.6 26.4 C38 26.4 27.5 29.5 17.6 36.4 C13.8 36.6 11.2 35.8 10.6 33.8 Z"/>
<path d="M19 37.8 C28.5 30.6 39 27.8 49 27.9 C53 28.6 56.6 30.8 59 34 C52 33 46.4 35.6 42.4 40.4 C39 44.6 34 46.8 29.6 46 C25 45 21 42 19 37.8 Z"/>
<ellipse cx="30.4" cy="10.2" rx="2.2" ry="1"/>
</g>
<g id="i-glasses" transform="translate(-2.3 0.2) scale(1.07 1)">
<path fill="#fdf8f0" d="M3.8 24.4 L7 20.6 C12 19.2 24 19.2 28.4 20.6 C30.4 21.4 33.6 21.4 35.6 20.6 C40 19.2 52 19.2 57 20.6 L60.2 24.4 L57.8 27.2 C57.8 35.4 53.5 41.4 46.6 41.4 C40 41.4 36.4 36.4 34.8 29 C34.2 26.6 29.8 26.6 29.2 29 C27.6 36.4 24 41.4 17.4 41.4 C10.5 41.4 6.2 35.4 6.2 27.2 Z"/>
<path fill="#eef3f7" stroke="#77808c" stroke-width="0.9" d="M9 25.6 C9 23.2 12 22.6 18 22.6 C24.4 22.6 27.4 23.4 27.2 26 C26.8 34 22.8 38.6 17.6 38.6 C12.4 38.6 9 33.6 9 25.6 Z"/>
<path fill="#eef3f7" stroke="#77808c" stroke-width="0.9" d="M55 25.6 C55 23.2 52 22.6 46 22.6 C39.6 22.6 36.6 23.4 36.8 26 C37.2 34 41.2 38.6 46.4 38.6 C51.6 38.6 55 33.6 55 25.6 Z"/>
</g>
<g id="i-umbrella" transform="translate(-0.6 -1.2) scale(1.03 1)">
<path fill="#fdf8f0" d="M31.4 5.4 C32.2 5.4 32.6 6.2 32.6 7.2 C46 8 57.2 17 58 29.6 C56.4 26.6 50 26.6 47.6 29.8 C45.4 26.6 39.4 26.6 37 29.8 C35.6 27.4 33.4 27 32.4 27 L30.4 27 C29.4 27 27.2 27.4 25.8 29.8 C23.4 26.6 17.4 26.6 15.2 29.8 C12.8 26.6 6.4 26.6 4.8 29.6 C5.6 17 16.8 8 30.2 7.2 C30.2 6.2 30.6 5.4 31.4 5.4 Z"/>
<path fill="none" stroke="#fdf8f0" stroke-width="2" stroke-linecap="round" d="M31.4 26 L31.4 44.4 C31.4 49 38.2 49 38.2 44.4"/>
</g>
<g id="i-tube" transform="translate(0.2 -1.6) scale(1.03)">
<path fill="#fdf8f0" d="M37.4 7.7 L52.4 23 L29.6 43.2 L18 31.8 Z"/>
<path fill="#fdf8f0" d="M16.6 33.4 L28 44.6 L26.6 46 L15.2 34.8 Z"/>
<path fill="#fdf8f0" d="M14.4 36 L25.6 47 L20.4 50.2 C19.6 50.7 18.8 50.6 18.2 50 L11.4 43.2 C10.8 42.6 10.8 41.8 11.2 41 Z"/>
<circle cx="34.6" cy="24.6" r="5.6" fill="#fdf8f0" stroke="#77808c" stroke-width="1"/>
<path fill="none" stroke="#77808c" stroke-width="0.9" d="M34.6 20.8V28.4M30.8 24.6H38.4M31.9 21.9L37.3 27.3M37.3 21.9L31.9 27.3"/>
</g>
</defs>
</svg>
<div class="band" style="left:1124.3px;top:482.0px;width:528.7px;height:101.0px;background:#a6ca17;border:1.6px solid #3f481c;"></div>
<div class="tab" style="left:1148.7px;top:462.0px;width:200.0px;height:46.4px;"></div>
<div class="t" style="left:1169.6px;top:463.7px;font-size:36.34px;color:#1f2a5a;font-weight:700;transform:scaleX(0.7119);text-shadow:1.12px 0 0 currentColor,-1.12px 0 0 currentColor;letter-spacing:0.91px;">Bajo</div>
<div class="t" style="left:1169.6px;top:512.2px;font-size:53.78px;color:#fff;font-weight:700;transform:scaleX(0.6255);text-shadow:1.92px 0 0 currentColor,-1.92px 0 0 currentColor;letter-spacing:1.08px;clip-path:polygon(-16.1px -21.5px,129.1px -21.5px,129.1px 38.4px,112.2px 38.4px,112.2px 72.6px,81.4px 72.6px,81.4px 38.4px,65.2px 38.4px,65.2px 72.6px,46.7px 72.6px,46.7px 38.4px,22.4px 38.4px,22.4px 72.6px,10.0px 72.6px,10.0px 38.4px,-16.1px 38.4px);">1 - 2</div>
<div class="ib" style="left:1276.3px;top:511.7px;width:65.1px;height:61.0px;"><svg width="62.5" height="58.2" viewBox="0 0 64 60" style="left:-0.4px;top:1.5px"><use href="#i-shirt"/></svg></div>
<div class="band" style="left:1127.8px;top:617.7px;width:528.7px;height:105.3px;background:#e9c930;border:1.6px solid #4a3c1c;"></div>
<div class="tab" style="left:1152.0px;top:597.8px;width:197.7px;height:45.2px;"></div>
<div class="t" style="left:1165.0px;top:600.1px;font-size:36.34px;color:#1f2a5a;font-weight:700;transform:scaleX(0.7334);text-shadow:1.09px 0 0 currentColor,-1.09px 0 0 currentColor;letter-spacing:0.91px;">Moderado</div>
<div class="t" style="left:1169.6px;top:654.8px;font-size:53.78px;color:#fff;font-weight:700;transform:scaleX(0.6523);text-shadow:1.84px 0 0 currentColor,-1.84px 0 0 currentColor;letter-spacing:1.08px;">3 - 5</div>
<div class="ib" style="left:1279.8px;top:650.8px;width:65.1px;height:61.1px;"><svg width="62.5" height="58.3" viewBox="0 0 64 60" style="left:-0.4px;top:1.5px"><use href="#i-shirt"/></svg></div>
<div class="ib" style="left:1354.0px;top:650.8px;width:65.1px;height:61.1px;"><svg width="62.5" height="58.3" viewBox="0 0 64 60" style="left:-0.4px;top:1.5px"><use href="#i-cap"/></svg></div>
<div class="ib" style="left:1428.7px;top:650.8px;width:65.1px;height:61.1px;"><svg width="62.5" height="58.3" viewBox="0 0 64 60" style="left:-0.4px;top:1.5px"><use href="#i-glasses"/></svg></div>
<div class="band" style="left:1126.0px;top:762.8px;width:528.8px;height:102.6px;background:#f0901c;border:1.6px solid #4a301c;"></div>
<div class="tab" style="left:1151.5px;top:735.7px;width:198.9px;height:46.2px;"></div>
<div class="t" style="left:1169.6px;top:737.9px;font-size:36.34px;color:#1f2a5a;font-weight:700;transform:scaleX(0.7225);text-shadow:1.11px 0 0 currentColor,-1.11px 0 0 currentColor;letter-spacing:0.91px;">Alto</div>
<div class="t" style="left:1164.3px;top:794.4px;font-size:53.78px;color:#fff;font-weight:700;transform:scaleX(0.6523);text-shadow:1.84px 0 0 currentColor,-1.84px 0 0 currentColor;letter-spacing:1.08px;">6 - 7</div>
<div class="ib" style="left:1269.4px;top:787.6px;width:65.4px;height:60.7px;"><svg width="62.8" height="57.9" viewBox="0 0 64 60" style="left:-0.4px;top:1.5px"><use href="#i-shirt"/></svg></div>
<div class="ib" style="left:1344.5px;top:787.6px;width:65.4px;height:60.7px;"><svg width="62.8" height="57.9" viewBox="0 0 64 60" style="left:-0.4px;top:1.5px"><use href="#i-cap"/></svg></div>
<div class="ib" style="left:1419.0px;top:787.6px;width:65.4px;height:60.7px;"><svg width="62.8" height="57.9" viewBox="0 0 64 60" style="left:-0.4px;top:1.5px"><use href="#i-glasses"/></svg></div>
<div class="ib" style="left:1494.8px;top:787.6px;width:65.4px;height:60.7px;"><svg width="62.8" height="57.9" viewBox="0 0 64 60" style="left:-0.4px;top:1.5px"><use href="#i-umbrella"/></svg></div>
<div class="ib" style="left:1570.6px;top:787.6px;width:65.4px;height:60.7px;"><svg width="62.8" height="57.9" viewBox="0 0 64 60" style="left:-0.4px;top:1.5px"><use href="#i-tube"/></svg></div>
<div class="band" style="left:1127.0px;top:907.8px;width:528.5px;height:101.6px;background:#e41a1a;border:1.6px solid #4a1c2c;"></div>
<div class="tab" style="left:1152.0px;top:887.0px;width:197.0px;height:45.9px;"></div>
<div class="t" style="left:1166.0px;top:890.2px;font-size:36.34px;color:#1f2a5a;font-weight:700;transform:scaleX(0.7285);text-shadow:1.10px 0 0 currentColor,-1.10px 0 0 currentColor;letter-spacing:0.91px;">Muy alto</div>
<div class="t" style="left:1166.0px;top:941.4px;font-size:53.78px;color:#fff;font-weight:700;transform:scaleX(0.6158);text-shadow:1.95px 0 0 currentColor,-1.95px 0 0 currentColor;letter-spacing:1.08px;clip-path:polygon(-16.1px -21.5px,160.1px -21.5px,160.1px 38.4px,143.1px 38.4px,143.1px 72.6px,112.7px 72.6px,112.7px 38.4px,104.5px 38.4px,104.5px 72.6px,92.0px 72.6px,92.0px 38.4px,65.2px 38.4px,65.2px 72.6px,46.7px 72.6px,46.7px 38.4px,30.7px 38.4px,30.7px 72.6px,-0.7px 72.6px,-0.7px 38.4px,-16.1px 38.4px);">8 - 10</div>
<div class="ib" style="left:1279.0px;top:937.1px;width:65.2px;height:60.8px;"><svg width="62.6" height="58.0" viewBox="0 0 64 60" style="left:-0.4px;top:1.5px"><use href="#i-shirt"/></svg></div>
<div class="ib" style="left:1354.0px;top:937.1px;width:65.2px;height:60.8px;"><svg width="62.6" height="58.0" viewBox="0 0 64 60" style="left:-0.4px;top:1.5px"><use href="#i-cap"/></svg></div>
<div class="ib" style="left:1428.7px;top:937.1px;width:65.2px;height:60.8px;"><svg width="62.6" height="58.0" viewBox="0 0 64 60" style="left:-0.4px;top:1.5px"><use href="#i-glasses"/></svg></div>
<div class="ib" style="left:1504.5px;top:937.1px;width:65.2px;height:60.8px;"><svg width="62.6" height="58.0" viewBox="0 0 64 60" style="left:-0.4px;top:1.5px"><use href="#i-umbrella"/></svg></div>
<div class="ib" style="left:1580.0px;top:937.1px;width:65.2px;height:60.8px;"><svg width="62.6" height="58.0" viewBox="0 0 64 60" style="left:-0.4px;top:1.5px"><use href="#i-tube"/></svg></div>
<div class="band" style="left:1122.6px;top:1059.0px;width:528.7px;height:102.7px;background:#66248b;border:1.6px solid #25214f;"></div>
<div class="tab" style="left:1145.0px;top:1036.5px;width:380.4px;height:45.2px;"></div>
<div class="t" style="left:1155.7px;top:1040.5px;font-size:36.34px;color:#1f2a5a;font-weight:700;transform:scaleX(0.7658);text-shadow:1.04px 0 0 currentColor,-1.04px 0 0 currentColor;letter-spacing:0.91px;">Extremadamente alto</div>
<div class="t" style="left:1166.0px;top:1095.3px;font-size:53.78px;color:#fff;font-weight:700;transform:scaleX(0.6577);text-shadow:1.82px 0 0 currentColor,-1.82px 0 0 currentColor;letter-spacing:1.08px;clip-path:polygon(-16.1px -21.5px,123.6px -21.5px,123.6px 38.4px,98.9px 38.4px,98.9px 72.6px,86.6px 72.6px,86.6px 38.4px,70.9px 38.4px,70.9px 72.6px,58.6px 72.6px,58.6px 38.4px,31.6px 38.4px,31.6px 72.6px,-0.1px 72.6px,-0.1px 38.4px,-16.1px 38.4px);">&gt; 11</div>
<div class="ib" style="left:1275.0px;top:1087.8px;width:65.2px;height:61.0px;"><svg width="62.6" height="58.2" viewBox="0 0 64 60" style="left:-0.4px;top:1.5px"><use href="#i-shirt"/></svg></div>
<div class="ib" style="left:1349.0px;top:1087.8px;width:65.2px;height:61.0px;"><svg width="62.6" height="58.2" viewBox="0 0 64 60" style="left:-0.4px;top:1.5px"><use href="#i-cap"/></svg></div>
<div class="ib" style="left:1424.0px;top:1087.8px;width:65.2px;height:61.0px;"><svg width="62.6" height="58.2" viewBox="0 0 64 60" style="left:-0.4px;top:1.5px"><use href="#i-glasses"/></svg></div>
<div class="ib" style="left:1500.0px;top:1087.8px;width:65.2px;height:61.0px;"><svg width="62.6" height="58.2" viewBox="0 0 64 60" style="left:-0.4px;top:1.5px"><use href="#i-umbrella"/></svg></div>
<div class="ib" style="left:1575.8px;top:1087.8px;width:65.2px;height:61.0px;"><svg width="62.6" height="58.2" viewBox="0 0 64 60" style="left:-0.4px;top:1.5px"><use href="#i-tube"/></svg></div>
<div class="abs" style="left:1076.4px;top:1210px;width:576.5px;height:294px;box-sizing:border-box;border:2px solid #26293f;border-radius:22px 22px 34px 34px;"></div>
<svg width="1725" height="1800" viewBox="0 0 1725 1800">
<g stroke-width="3.4" stroke-linejoin="round" fill="#fff">
<path d="M1087.7 1197.6 L1106.3 1234.8 L1069.1 1234.8 Z" stroke="#e0202a"/>
<path d="M1640.2 1197.8 L1658.8 1235 L1621.9 1235 Z" stroke="#5b2a86"/>
</g>
<g fill="#050505">
<path d="M1085 1207.6 h5.6 l-1.5 16 h-2.6 Z"/><circle cx="1087.8" cy="1228.3" r="2.5"/>
<path d="M1637.4 1207.8 h5.6 l-1.5 16 h-2.6 Z"/><circle cx="1640.2" cy="1228.5" r="2.5"/>
</g>
</svg>
<div class="t" style="left:1275.0px;top:1221.4px;font-size:35.61px;color:#2a3468;font-weight:700;transform:scaleX(0.7117);text-shadow:1.26px 0 0 currentColor,-1.26px 0 0 currentColor;letter-spacing:1.07px;">IMPORTANTE</div>
<div class="t" style="left:1178.0px;top:1265.5px;font-size:39.24px;color:#111;font-weight:400;transform:scaleX(0.7054);text-shadow:0.71px 0 0 currentColor,-0.71px 0 0 currentColor;letter-spacing:0.78px;">El INAMHI aconseja <span style="font-weight:700;">evitar la</span></div>
<div class="t" style="left:1100.0px;top:1310.7px;font-size:39.24px;color:#111;font-weight:700;transform:scaleX(0.7168);text-shadow:0.70px 0 0 currentColor,-0.70px 0 0 currentColor;letter-spacing:0.78px;">exposición prolongada al sol entre las</div>
<div class="t" style="left:1101.0px;top:1357.8px;font-size:39.24px;color:#111;font-weight:400;transform:scaleX(0.7189);text-shadow:0.70px 0 0 currentColor,-0.70px 0 0 currentColor;letter-spacing:0.78px;clip-path:polygon(-11.8px -15.7px,748.4px -15.7px,748.4px 27.5px,735.7px 27.5px,735.7px 53.0px,716.2px 53.0px,716.2px 27.5px,714.9px 27.5px,714.9px 53.0px,694.1px 53.0px,694.1px 27.5px,691.4px 27.5px,691.4px 53.0px,685.6px 53.0px,685.6px 27.5px,682.8px 27.5px,682.8px 53.0px,662.0px 53.0px,662.0px 27.5px,661.8px 27.5px,661.8px 53.0px,640.1px 53.0px,640.1px 27.5px,638.9px 27.5px,638.9px 53.0px,633.1px 53.0px,633.1px 27.5px,629.5px 27.5px,629.5px 53.0px,610.4px 53.0px,610.4px 27.5px,595.2px 27.5px,595.2px 53.0px,576.1px 53.0px,576.1px 27.5px,573.5px 27.5px,573.5px 53.0px,552.6px 53.0px,552.6px 27.5px,551.5px 27.5px,551.5px 53.0px,532.2px 53.0px,532.2px 27.5px,519.0px 27.5px,519.0px 53.0px,477.5px 53.0px,477.5px 27.5px,475.7px 27.5px,475.7px 53.0px,454.8px 53.0px,454.8px 27.5px,454.1px 27.5px,454.1px 53.0px,441.9px 53.0px,441.9px 27.5px,440.9px 27.5px,440.9px 53.0px,418.4px 53.0px,418.4px 27.5px,404.1px 27.5px,404.1px 53.0px,385.0px 53.0px,385.0px 27.5px,382.3px 27.5px,382.3px 53.0px,361.5px 53.0px,361.5px 27.5px,348.1px 27.5px,348.1px 53.0px,326.9px 53.0px,326.9px 27.5px,324.7px 27.5px,324.7px 53.0px,303.5px 53.0px,303.5px 27.5px,300.7px 27.5px,300.7px 53.0px,279.7px 53.0px,279.7px 27.5px,278.1px 27.5px,278.1px 53.0px,257.1px 53.0px,257.1px 27.5px,253.4px 27.5px,253.4px 53.0px,245.5px 53.0px,245.5px 27.5px,242.2px 27.5px,242.2px 53.0px,220.3px 53.0px,220.3px 27.5px,213.5px 27.5px,213.5px 53.0px,205.5px 53.0px,205.5px 27.5px,186.2px 27.5px,186.2px 53.0px,162.5px 53.0px,162.5px 27.5px,150.5px 27.5px,150.5px 53.0px,129.2px 53.0px,129.2px 27.5px,127.0px 27.5px,127.0px 53.0px,105.8px 53.0px,105.8px 27.5px,103.1px 27.5px,103.1px 53.0px,82.0px 53.0px,82.0px 27.5px,80.5px 27.5px,80.5px 53.0px,59.4px 53.0px,59.4px 27.5px,55.7px 27.5px,55.7px 53.0px,47.8px 53.0px,47.8px 27.5px,44.0px 27.5px,44.0px 53.0px,23.0px 53.0px,23.0px 27.5px,15.8px 27.5px,15.8px 53.0px,7.9px 53.0px,7.9px 27.5px,-11.8px 27.5px);"><span style="font-weight:700;">10:00hs y 15:00hs</span> en áreas con niveles</div>
<div class="t" style="left:1110.0px;top:1404.1px;font-size:39.24px;color:#111;font-weight:400;transform:scaleX(0.7233);text-shadow:0.69px 0 0 currentColor,-0.69px 0 0 currentColor;letter-spacing:0.78px;">de <span style="font-weight:700;">radiación ultravioleta </span><span style="font-weight:700;color:#e0201c;">muy altos</span><span style="font-weight:700;"> o</span></div>
<div class="t" style="left:1202.6px;top:1450.1px;font-size:39.24px;color:#111;font-weight:700;transform:scaleX(0.7392);text-shadow:0.68px 0 0 currentColor,-0.68px 0 0 currentColor;letter-spacing:0.78px;"><span style="color:#6a2c8e;">extremadamente altos</span>.</div>
<div class="t" style="left:1443.7px;top:1512.1px;font-size:30.52px;color:#2a3060;font-weight:400;transform:scaleX(0.7265);text-shadow:0.41px 0 0 currentColor,-0.41px 0 0 currentColor;">Elaborado por: G.F.</div>
<svg width="1725" height="1800" viewBox="0 0 1725 1800"><g stroke-linejoin="round" stroke-width="5"><path d="M633.5 1669.2 L647.5 1669.2 L616.5 1740.5 L602.5 1740.5 Z" fill="#f8c21c" stroke="#f8c21c"/><path d="M661.5 1669.2 L676.5 1669.2 L645.5 1740.5 L631.5 1740.5 Z" fill="#2b3a94" stroke="#2b3a94"/><path d="M689.5 1669.2 L704.5 1669.2 L673.3 1740.5 L659.3 1740.5 Z" fill="#e8212e" stroke="#e8212e"/></g></svg>
<div class="t" style="left:530.0px;top:1663.6px;font-size:28.34px;color:#2b3a94;font-weight:700;font-style:italic;transform:skewX(-7.0deg) scaleX(0.5663);text-shadow:1.41px 0 0 currentColor,-1.41px 0 0 currentColor;letter-spacing:0.57px;transform-origin:0 24.0px;">EL NUEVO</div>
<div class="t" style="left:392.5px;top:1679.8px;font-size:74.85px;color:#2b3a94;font-weight:700;font-style:italic;transform:skewX(-7.0deg) scaleX(0.5099);text-shadow:4.31px 0 0 currentColor,-4.31px 0 0 currentColor;letter-spacing:2.62px;transform-origin:0 63.4px;">ECUADOR</div>
<div class="t" style="left:711.0px;top:1664.4px;font-size:29.07px;color:#2b3a94;font-weight:700;font-style:italic;transform:skewX(-7.0deg) scaleX(0.6554);text-shadow:1.22px 0 0 currentColor,-1.22px 0 0 currentColor;letter-spacing:0.58px;transform-origin:0 24.6px;">DEFIENDE</div>
<div class="t" style="left:704.0px;top:1690.2px;font-size:29.80px;color:#2b3a94;font-weight:700;font-style:italic;transform:skewX(-7.0deg) scaleX(0.6102);text-shadow:1.31px 0 0 currentColor,-1.31px 0 0 currentColor;letter-spacing:0.60px;transform-origin:0 25.2px;">IMPULSA</div>
<div class="t" style="left:694.5px;top:1716.6px;font-size:29.80px;color:#2b3a94;font-weight:700;font-style:italic;transform:skewX(-7.0deg) scaleX(0.6021);text-shadow:1.33px 0 0 currentColor,-1.33px 0 0 currentColor;letter-spacing:0.60px;transform-origin:0 25.2px;">CONSTRUYE</div>
<div class="t" style="left:847.0px;top:1689.0px;font-size:25.87px;color:#2a2e7a;font-weight:400;font-style:italic;transform:scaleX(1.1999);text-shadow:0.46px 0 0 currentColor,-0.46px 0 0 currentColor;">Instituto Nacional de Meteorología e</div>
<div class="t" style="left:847.0px;top:1721.8px;font-size:25.87px;color:#2a2e7a;font-weight:400;font-style:italic;transform:scaleX(1.1621);text-shadow:0.47px 0 0 currentColor,-0.47px 0 0 currentColor;">Hidrología - INAMHI</div>
</body>
</html>
